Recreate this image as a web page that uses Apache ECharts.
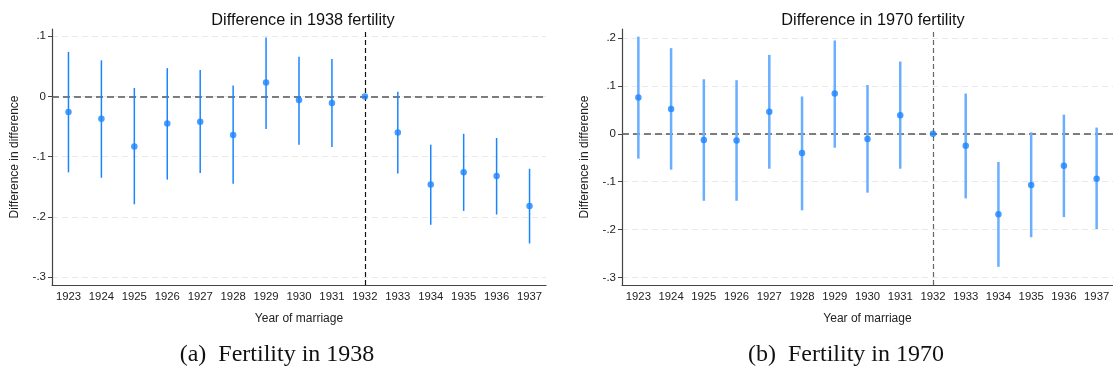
<!DOCTYPE html>
<html>
<head>
<meta charset="utf-8">
<script src="https://cdn.jsdelivr.net/npm/echarts@6/dist/echarts.min.js"></script>
<style>html,body{margin:0;padding:0;background:#fff;}#c{width:1113px;height:371px;}</style>
</head>
<body>
<div id="c"></div>
<script>
const years = ['1923','1924','1925','1926','1927','1928','1929','1930','1931','1932','1933','1934','1935','1936','1937'];
const est1938 = [-0.026,-0.037,-0.083,-0.045,-0.042,-0.064,0.023,-0.006,-0.011,0,-0.060,-0.146,-0.126,-0.132,-0.182];
const lo1938  = [-0.126,-0.135,-0.179,-0.138,-0.127,-0.145,-0.054,-0.080,-0.084,null,-0.128,-0.213,-0.190,-0.196,-0.244];
const hi1938  = [0.074,0.060,0.014,0.047,0.044,0.018,0.098,0.066,0.062,null,0.008,-0.080,-0.062,-0.069,-0.120];
const est1970 = [0.076,0.052,-0.013,-0.014,0.046,-0.040,0.084,-0.011,0.039,0,-0.025,-0.168,-0.107,-0.067,-0.094];
const lo1970  = [-0.052,-0.075,-0.140,-0.140,-0.073,-0.160,-0.029,-0.123,-0.073,null,-0.135,-0.278,-0.216,-0.174,-0.199];
const hi1970  = [0.203,0.179,0.114,0.112,0.165,0.078,0.195,0.102,0.151,null,0.084,-0.059,0.003,0.040,0.013];
const ticks1938 = [-0.3,-0.2,-0.1,0,0.1];
const ticks1970 = [-0.3,-0.2,-0.1,0,0.1,0.2];
const titles = ['Difference in 1938 fertility','Difference in 1970 fertility'];
const captions = ['(a)  Fertility in 1938','(b)  Fertility in 1970'];

const fmt = v => {
  const r = Math.round(v*10)/10;
  if (r === 0) return '0';
  return (r < 0 ? '-' : '') + String(Math.abs(r)).replace(/^0/, '');
};

function xAxis(gi){
  return {
    type:'category', gridIndex:gi, data:years, boundaryGap:true,
    name:'Year of marriage', nameLocation:'middle', nameGap:28,
    nameTextStyle:{fontFamily:'Liberation Sans', fontSize:12, color:'#222'},
    axisLine:{onZero:false, lineStyle:{color:'#444', width:1.2}},
    axisTick:{alignWithLabel:true, length:4, lineStyle:{color:'#444'}},
    axisLabel:{fontFamily:'Liberation Sans', fontSize:11.3, color:'#222', margin:6, interval:0},
    splitLine:{show:false}
  };
}
function yAxis(gi, min, max, ticks){
  return {
    type:'value', gridIndex:gi, min:min, max:max,
    name:'Difference in difference', nameLocation:'middle', nameGap:31,
    nameTextStyle:{fontFamily:'Liberation Sans', fontSize:12, color:'#222'},
    axisLine:{show:true, lineStyle:{color:'#444', width:1.2}},
    axisTick:{show:true, length:4, customValues:ticks, lineStyle:{color:'#444'}},
    axisLabel:{fontFamily:'Liberation Sans', fontSize:11.5, color:'#222', margin:6, customValues:ticks, formatter:fmt},
    splitLine:{show:true, lineStyle:{color:'#e9e9e9', type:[6,4], width:1}}
  };
}
function ciSeries(gi, lo, hi, color, width){
  return {
    type:'custom', xAxisIndex:gi, yAxisIndex:gi, z:3,
    data: years.map((y,i)=>[i, lo[i]===null?NaN:lo[i], hi[i]===null?NaN:hi[i]]),
    encode:{x:0, y:[1,2]},
    renderItem:function(params, api){
      const lo = api.value(1), hi = api.value(2);
      if (isNaN(lo) || isNaN(hi)) return null;
      const p1 = api.coord([api.value(0), lo]);
      const p2 = api.coord([api.value(0), hi]);
      return {type:'line', shape:{x1:p1[0], y1:p1[1], x2:p2[0], y2:p2[1]}, style:{stroke:color, lineWidth:width}};
    }
  };
}
function ptSeries(gi, est, vColor){
  return {
    type:'scatter', xAxisIndex:gi, yAxisIndex:gi, z:5,
    data: est, symbol:'circle', symbolSize:6.5,
    itemStyle:{color:'#1a85ff'},
    markLine:{
      silent:true, symbol:'none', z:2, label:{show:false},
      data:[
        {yAxis:0, lineStyle:{color:'#555', type:[7,4], width:1.5}},
        {xAxis:'1932', lineStyle:{color:vColor, type:[5,3], width:1.2}}
      ]
    }
  };
}

const chart = echarts.init(document.getElementById('c'), null, {renderer:'canvas'});
chart.setOption({
  animation:false,
  backgroundColor:'#fff',
  title:[
    {text:titles[0], left:298, top:8, textAlign:'center', textStyle:{fontFamily:'Liberation Sans', fontWeight:'normal', fontSize:16.3, color:'#111'}},
    {text:titles[1], left:868, top:8, textAlign:'center', textStyle:{fontFamily:'Liberation Sans', fontWeight:'normal', fontSize:16.3, color:'#111'}}
  ],
  grid:[
    {left:52, top:29, width:494, bottom:86, containLabel:false},
    {left:622, top:29, width:495, bottom:86, containLabel:false}
  ],
  xAxis:[xAxis(0), xAxis(1)],
  yAxis:[yAxis(0,-0.313,0.112,ticks1938), yAxis(1,-0.316,0.219,ticks1970)],
  series:[
    ciSeries(0, lo1938, hi1938, '#1a85ff', 1.5),
    ptSeries(0, est1938, '#111'),
    ciSeries(1, lo1970, hi1970, '#6aaeff', 2.5),
    ptSeries(1, est1970, '#666')
  ],
  graphic:[
    {type:'text', x:277, y:355, style:{text:captions[0], font:'24px "Liberation Serif"', fill:'#111', align:'center', verticalAlign:'middle'}},
    {type:'text', x:846, y:355, style:{text:captions[1], font:'24px "Liberation Serif"', fill:'#111', align:'center', verticalAlign:'middle'}}
  ]
});
</script>
</body>
</html>
